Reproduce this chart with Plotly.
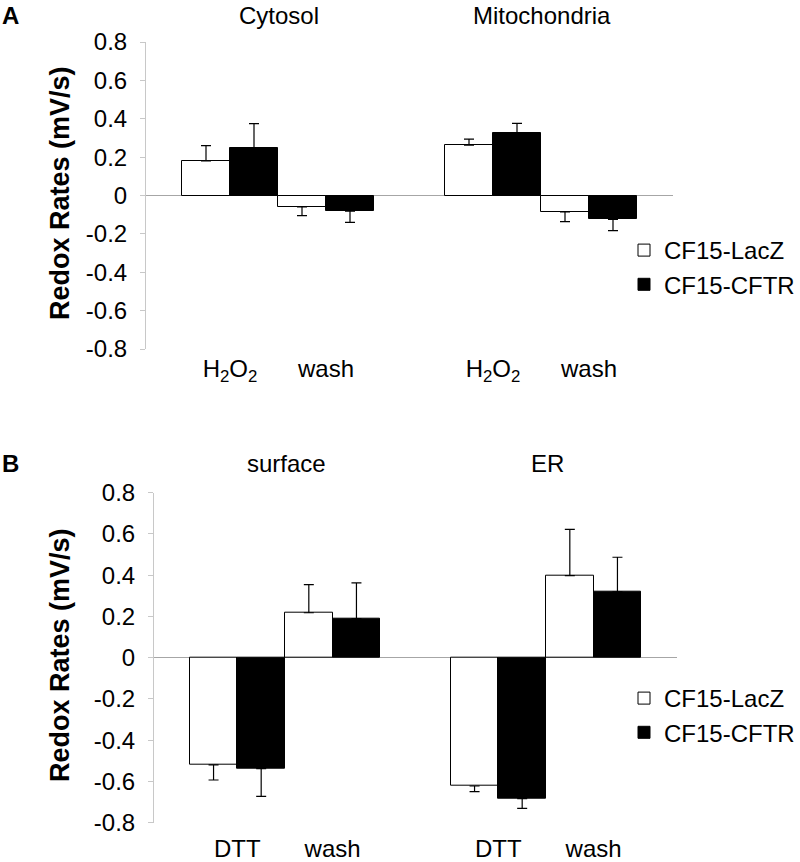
import plotly.graph_objects as go

# ---------------- data ----------------
series = ["CF15-LacZ", "CF15-CFTR"]

cats_A = ["H<sub>2</sub>O<sub>2</sub>", "wash"]
cyt_lacz = [0.18, -0.06]
cyt_lacz_err = [0.08, 0.045]
cyt_cftr = [0.245, -0.082]
cyt_cftr_err = [0.13, 0.058]
mito_lacz = [0.263, -0.085]
mito_lacz_err = [0.031, 0.051]
mito_cftr = [0.324, -0.125]
mito_cftr_err = [0.052, 0.058]

cats_B = ["DTT", "wash"]
surf_lacz = [-0.52, 0.218]
surf_lacz_err = [0.073, 0.136]
surf_cftr = [-0.538, 0.19]
surf_cftr_err = [0.134, 0.173]
er_lacz = [-0.622, 0.398]
er_lacz_err = [0.027, 0.224]
er_cftr = [-0.683, 0.319]
er_cftr_err = [0.048, 0.168]

titles = ["Cytosol", "Mitochondria", "surface", "ER"]
y_ticks = [0.8, 0.6, 0.4, 0.2, 0, -0.2, -0.4, -0.6, -0.8]
y_ticktext = ["0.8", "0.6", "0.4", "0.2", "0", "-0.2", "-0.4", "-0.6", "-0.8"]
y_title = "Redox Rates (mV/s)"

# ---------------- layout helpers ----------------
W, H = 800, 862
FONT = "Arial, Liberation Sans, Helvetica, sans-serif"
FS = 24


def X(px):
    return px / W


def Y(py):
    return 1 - py / H


def err_up(vals, errs):
    return [e if v >= 0 else 0 for v, e in zip(vals, errs)]


def err_dn(vals, errs):
    return [e if v < 0 else 0 for v, e in zip(vals, errs)]


fig = go.Figure()

panels = [
    ("x", "y", cats_A, cyt_lacz, cyt_lacz_err, cyt_cftr, cyt_cftr_err, True, "legend"),
    ("x2", "y2", cats_A, mito_lacz, mito_lacz_err, mito_cftr, mito_cftr_err, False, "legend"),
    ("x3", "y3", cats_B, surf_lacz, surf_lacz_err, surf_cftr, surf_cftr_err, True, "legend2"),
    ("x4", "y4", cats_B, er_lacz, er_lacz_err, er_cftr, er_cftr_err, False, "legend2"),
]

for xa, ya, cats, v1, e1, v2, e2, show, leg in panels:
    for name, vals, errs, fill in [(series[0], v1, e1, "white"), (series[1], v2, e2, "black")]:
        fig.add_trace(go.Bar(
            x=cats, y=vals, name=name, xaxis=xa, yaxis=ya,
            marker=dict(color=fill, line=dict(color="black", width=1)),
            error_y=dict(type="data", symmetric=False,
                         array=err_up(vals, errs), arrayminus=err_dn(vals, errs),
                         color="black", thickness=1.2, width=5),
            showlegend=show, legend=leg, legendgroup=leg + name,
        ))

yax_common = dict(range=[-0.8, 0.8], tickvals=y_ticks, ticktext=y_ticktext, automargin=False,
                  showgrid=False, zeroline=True, zerolinecolor="#a6a6a6", zerolinewidth=1,
                  tickfont=dict(size=FS, color="black", family=FONT))
yax_main = dict(showline=True, linecolor="#c8c8c8", linewidth=1, ticks="outside",
                ticklen=5, tickcolor="#c8c8c8", ticklabelstandoff=8)
yax_hidden = dict(showline=False, ticks="", showticklabels=False)
xax_common = dict(type="category", range=[-0.875, 1.875], showgrid=False, zeroline=False,
                  automargin=False, showline=False, ticks="",
                  tickfont=dict(size=FS, color="black", family=FONT))

legend_common = dict(xref="container", yref="container", xanchor="left", yanchor="top",
                     bgcolor="rgba(0,0,0,0)", font=dict(size=FS, family=FONT, color="black"),
                     traceorder="grouped", tracegroupgap=0, itemwidth=30)

fig.update_layout(
    width=W, height=H,
    margin=dict(l=0, r=0, t=0, b=0, autoexpand=False),
    paper_bgcolor="white", plot_bgcolor="white",
    font=dict(family=FONT, size=FS, color="black"),
    barmode="group", bargap=0, bargroupgap=0,
    xaxis=dict(domain=[X(146), X(410)], anchor="y", ticklabelstandoff=3, **xax_common),
    xaxis2=dict(domain=[X(409), X(673)], anchor="y2", ticklabelstandoff=3, **xax_common),
    xaxis3=dict(domain=[X(154), X(416)], anchor="y3", ticklabelstandoff=9, **xax_common),
    xaxis4=dict(domain=[X(415), X(677)], anchor="y4", ticklabelstandoff=9, **xax_common),
    yaxis=dict(domain=[Y(349), Y(42)], anchor="x", **yax_common, **yax_main),
    yaxis2=dict(domain=[Y(349), Y(42)], anchor="x2", matches="y", **yax_common, **yax_hidden),
    yaxis3=dict(domain=[Y(822.7), Y(492.7)], anchor="x3", **yax_common, **yax_main),
    yaxis4=dict(domain=[Y(822.7), Y(492.7)], anchor="x4", matches="y3", **yax_common, **yax_hidden),
    legend=dict(x=X(624), y=Y(228), **legend_common),
    legend2=dict(x=X(624), y=Y(676), **legend_common),
)

ann = []
# subplot titles
for t, (cx, cy) in zip(titles, [(279, 15), (542, 15), (286, 463), (547, 463)]):
    ann.append(dict(text=t, x=X(cx), y=Y(cy), xref="paper", yref="paper",
                    xanchor="center", yanchor="middle", showarrow=False,
                    font=dict(size=FS, family=FONT, color="black")))
# panel letters
for t, cy in [("A", 15), ("B", 463)]:
    ann.append(dict(text="<b>" + t + "</b>", x=0, y=Y(cy), xref="paper", yref="paper",
                    xanchor="left", yanchor="middle", showarrow=False,
                    font=dict(size=FS, family=FONT, color="black")))
# y titles
for cy in [193, 655]:
    ann.append(dict(text="<b>" + y_title + "</b>", x=X(60), y=Y(cy), xref="paper", yref="paper",
                    xanchor="center", yanchor="middle", textangle=-90, showarrow=False,
                    font=dict(size=27, family=FONT, color="black")))
fig.update_layout(annotations=ann)

# remove the default page margin so the figure sits at the window's corner
fig.write_html("out.html", config={"displayModeBar": False},
               post_script="document.body.style.margin='0px';")
